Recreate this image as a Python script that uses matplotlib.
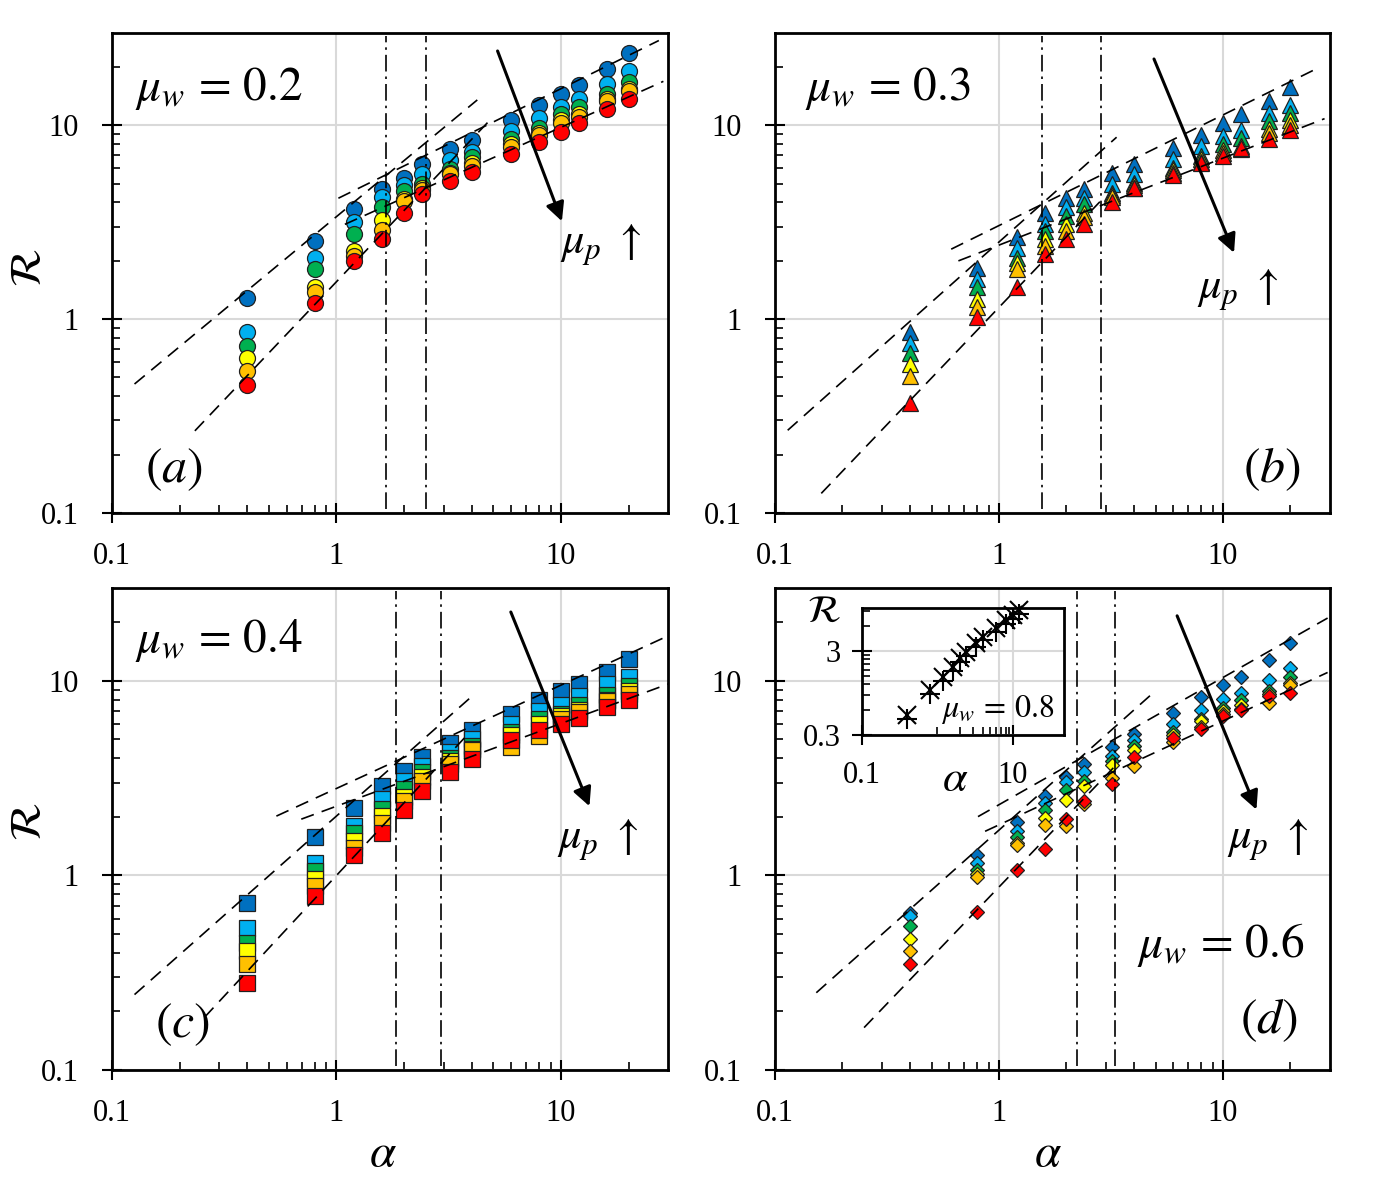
import numpy as np
import matplotlib
matplotlib.use('Agg')
import matplotlib.pyplot as plt
from matplotlib.ticker import FixedLocator, NullFormatter

plt.rcParams['font.family'] = ['Liberation Serif', 'DejaVu Serif']
plt.rcParams['mathtext.fontset'] = 'stix'

# aspect ratio alpha (same for every panel)
alpha = [0.4, 0.8, 1.2, 1.6, 2, 2.4, 3.2, 4, 6, 8, 10, 12, 16, 20]
# colours for increasing mu_p
colors = ['#0070C0', '#00B0F0', '#00B050', '#FFFF00', '#FFC000', '#FF0000']

# R for mu_w = 0.2, one row per mu_p
R_02 = [
    [1.29, 2.54, 3.72, 4.68, 5.33, 6.34, 7.51, 8.36, 10.7, 12.8, 14.5, 16.1, 19.6, 23.5],
    [0.86, 2.08, 3.18, 4.27, 4.92, 5.59, 6.59, 7.31, 9.33, 10.9, 12.4, 13.7, 16.4, 19.0],
    [0.73, 1.82, 2.75, 3.77, 4.59, 5.00, 5.93, 6.86, 8.46, 9.71, 11.4, 12.4, 14.5, 16.7],
    [0.63, 1.46, 2.25, 3.24, 4.16, 4.77, 5.70, 6.42, 7.97, 9.15, 10.6, 11.5, 13.7, 15.4],
    [0.54, 1.38, 2.13, 2.88, 4.07, 4.62, 5.59, 6.17, 7.72, 8.90, 10.3, 11.1, 13.3, 15.0],
    [0.46, 1.21, 2.00, 2.59, 3.55, 4.41, 5.16, 5.77, 7.08, 8.19, 9.26, 10.3, 12.1, 13.7],
]
# R for mu_w = 0.3
R_03 = [
    [0.86, 1.84, 2.66, 3.51, 4.24, 4.68, 5.70, 6.34, 7.66, 8.97, 10.3, 11.5, 13.3, 15.7],
    [0.75, 1.61, 2.33, 3.11, 3.77, 4.24, 4.96, 5.59, 6.67, 7.81, 8.80, 9.51, 11.6, 12.8],
    [0.67, 1.47, 2.08, 2.86, 3.41, 3.92, 4.50, 5.06, 6.04, 6.94, 7.97, 8.62, 10.5, 11.6],
    [0.59, 1.27, 1.94, 2.59, 3.09, 3.55, 4.38, 4.92, 5.86, 6.67, 7.42, 7.81, 9.63, 10.7],
    [0.51, 1.15, 1.81, 2.39, 2.86, 3.35, 4.27, 4.77, 5.70, 6.49, 7.22, 7.51, 9.15, 10.1],
    [0.37, 1.02, 1.46, 2.18, 2.59, 3.11, 4.04, 4.73, 5.54, 6.42, 6.94, 7.60, 8.46, 9.50],
]
# R for mu_w = 0.4
R_04 = [
    [0.72, 1.58, 2.21, 2.89, 3.43, 4.05, 4.79, 5.56, 6.78, 7.94, 8.88, 9.69, 11.1, 13.0],
    [0.54, 1.16, 1.80, 2.47, 3.07, 3.67, 4.30, 5.04, 5.97, 7.00, 7.49, 8.33, 9.69, 10.5],
    [0.45, 1.06, 1.66, 2.19, 2.78, 3.39, 4.02, 4.65, 5.45, 6.39, 6.78, 7.49, 8.43, 9.38],
    [0.41, 0.96, 1.50, 2.01, 2.54, 3.19, 3.86, 4.47, 5.25, 6.00, 6.57, 7.11, 8.01, 8.88],
    [0.35, 0.88, 1.39, 1.86, 2.40, 3.07, 3.74, 4.39, 4.60, 5.20, 6.39, 6.92, 7.88, 8.60],
    [0.28, 0.78, 1.27, 1.66, 2.17, 2.73, 3.39, 3.97, 4.95, 5.60, 6.02, 6.47, 7.34, 7.94],
]
# R for mu_w = 0.6
R_06 = [
    [0.64, 1.28, 1.88, 2.55, 3.19, 3.74, 4.56, 5.35, 6.86, 8.27, 9.57, 10.5, 12.8, 15.6],
    [0.62, 1.16, 1.69, 2.37, 3.01, 3.42, 4.13, 4.94, 6.02, 7.06, 8.04, 8.71, 10.1, 11.6],
    [0.55, 1.07, 1.58, 2.17, 2.76, 3.07, 3.89, 4.65, 5.45, 6.39, 7.26, 7.94, 8.85, 10.5],
    [0.47, 1.02, 1.47, 1.98, 2.45, 2.89, 3.70, 4.39, 5.30, 6.19, 6.97, 7.55, 8.60, 9.80],
    [0.41, 0.98, 1.43, 1.81, 1.79, 2.33, 3.16, 3.67, 4.88, 5.79, 6.78, 7.14, 7.73, 9.50],
    [0.35, 0.65, 1.07, 1.37, 1.94, 2.41, 2.95, 4.05, 5.10, 5.63, 6.60, 7.06, 8.37, 8.71],
]

# power-law guides R = c * alpha^n over [lo, hi]
fits_02 = [(3.38, 0.96, 0.126, 4.24), (1.56, 1.22, 0.234, 4.99),
           (4.16, 0.57, 1.02, 27.3), (2.95, 0.52, 1.09, 28.6)]
fits_03 = [(2.50, 1.03, 0.114, 3.35), (1.15, 1.21, 0.161, 2.90),
           (3.04, 0.571, 0.612, 25.5), (2.41, 0.449, 0.659, 28.4)]
fits_04 = [(2.02, 1.02, 0.126, 4.08), (1.00, 1.24, 0.258, 3.80),
           (2.80, 0.531, 0.54, 30.0), (2.27, 0.425, 0.697, 30.0)]
fits_06 = [(1.71, 1.025, 0.153, 4.83), (0.872, 1.20, 0.25, 3.50),
           (2.31, 0.654, 0.806, 29.3), (1.82, 0.534, 0.867, 29.3)]

# regime boundaries (dash-dot)
bounds_02 = [1.66, 2.51]
bounds_03 = [1.56, 2.84]
bounds_04 = [1.84, 2.91]
bounds_06 = [2.24, 3.29]

# inset, mu_w = 0.8
alpha_08 = [0.4, 0.8, 1.2, 1.6, 2, 2.4, 3.2, 4, 6, 8, 10, 12]
R_08_x = [0.52, 1.03, 1.48, 1.95, 2.45, 2.90, 3.70, 4.43, 5.58, 7.00, 8.00, 9.20]
R_08_p = [0.46, 0.92, 1.32, 1.75, 2.20, 2.60, 3.30, 4.00, 5.00, 6.30, 7.20, 8.30]

fig = plt.figure(figsize=(13.74, 11.83), dpi=100)

boxes = [[0.0815, 0.5664, 0.4047, 0.4058], [0.5640, 0.5664, 0.4039, 0.4058],
         [0.0815, 0.0955, 0.4047, 0.4074], [0.5640, 0.0955, 0.4039, 0.4074]]
panels = [(R_02, 'o', 11.5, fits_02, bounds_02),
          (R_03, '^', 11, fits_03, bounds_03),
          (R_04, 's', 11.3, fits_04, bounds_04),
          (R_06, 'D', 7.4, fits_06, bounds_06)]
axes = []

for box, (R, mk, ms, fits, bounds) in zip(boxes, panels):
    ax = fig.add_axes(box)
    ax.set_xscale('log')
    ax.set_yscale('log')
    ax.set_xlim(0.1, 30)
    ax.set_ylim(0.1, 30)
    ax.set_axisbelow(True)
    ax.grid(True, which='major', color='#d9d9d9', lw=1.5)

    for vals, col in zip(R, colors):
        ax.plot(alpha, vals, ls='none', marker=mk, ms=ms, mfc=col,
                mec='#202020', mew=0.9, zorder=3)
    for c, n, lo, hi in fits:
        xs = np.geomspace(lo, hi, 60)
        ax.plot(xs, c * xs**n, color='k', lw=1.2, ls=(0, (8, 5)), zorder=4)
    for b in bounds:
        ax.plot([b, b], [0.105, 29], color='k', lw=1.2,
                ls=(0, (10, 3, 1.5, 3)), zorder=4)

    ax.xaxis.set_major_locator(FixedLocator([0.1, 1, 10]))
    ax.yaxis.set_major_locator(FixedLocator([0.1, 1, 10]))
    ax.set_xticklabels(['0.1', '1', '10'])
    ax.set_yticklabels(['0.1', '1', '10'])
    minors = [k * d for d in (0.1, 1, 10) for k in range(2, 10) if k * d < 30]
    ax.xaxis.set_minor_locator(FixedLocator(minors))
    ax.yaxis.set_minor_locator(FixedLocator(minors))
    ax.xaxis.set_minor_formatter(NullFormatter())
    ax.yaxis.set_minor_formatter(NullFormatter())
    ax.tick_params(which='major', direction='inout', length=14, width=1.5,
                   labelsize=22)
    ax.tick_params(axis='x', which='major', pad=14)
    ax.tick_params(axis='y', which='major', pad=17)
    ax.tick_params(which='minor', direction='in', length=6, width=1.2)
    for s in ax.spines.values():
        s.set_linewidth(2)
    axes.append(ax)

ax_a, ax_b, ax_c, ax_d = axes

# labels inside panels
ax_a.text(0.041, 0.885, r'$\mu_w\,=\,0.2$', transform=ax_a.transAxes, fontsize=34, va='center')
ax_b.text(0.054, 0.885, r'$\mu_w\,=\,0.3$', transform=ax_b.transAxes, fontsize=34, va='center')
ax_c.text(0.041, 0.892, r'$\mu_w\,=\,0.4$', transform=ax_c.transAxes, fontsize=34, va='center')
ax_d.text(0.652, 0.259, r'$\mu_w\,=\,0.6$', transform=ax_d.transAxes, fontsize=34, va='center')

ax_a.text(0.806, 0.558, r'$\mu_p\ \uparrow$', transform=ax_a.transAxes, fontsize=32, va='center')
ax_b.text(0.760, 0.465, r'$\mu_p\ \uparrow$', transform=ax_b.transAxes, fontsize=32, va='center')
ax_c.text(0.800, 0.477, r'$\mu_p\ \uparrow$', transform=ax_c.transAxes, fontsize=32, va='center')
ax_d.text(0.814, 0.477, r'$\mu_p\ \uparrow$', transform=ax_d.transAxes, fontsize=32, va='center')

ax_a.text(0.059, 0.09, r'$(a)$', transform=ax_a.transAxes, fontsize=36, va='center')
ax_b.text(0.843, 0.09, r'$(b)$', transform=ax_b.transAxes, fontsize=36, va='center')
ax_c.text(0.077, 0.093, r'$(c)$', transform=ax_c.transAxes, fontsize=36, va='center')
ax_d.text(0.838, 0.104, r'$(d)$', transform=ax_d.transAxes, fontsize=36, va='center')

arrow = dict(arrowstyle='-|>', lw=2.2, color='k', mutation_scale=28, shrinkA=0, shrinkB=0)
ax_a.annotate('', xy=(10.1, 3.2), xytext=(5.22, 24.2), arrowprops=arrow)
ax_b.annotate('', xy=(11.2, 2.2), xytext=(4.92, 22.0), arrowprops=arrow)
ax_c.annotate('', xy=(13.4, 2.27), xytext=(5.98, 22.6), arrowprops=arrow)
ax_d.annotate('', xy=(14.1, 2.18), xytext=(6.24, 21.6), arrowprops=arrow)

fig.text(30 / 1374, 1 - 268 / 1183, r'$\mathcal{R}$', rotation=90, ha='center', va='center', fontsize=32)
fig.text(30 / 1374, 1 - 822 / 1183, r'$\mathcal{R}$', rotation=90, ha='center', va='center', fontsize=32)
fig.text(383 / 1374, 1 - 1155 / 1183, r'$\alpha$', ha='center', va='center', fontsize=34)
fig.text(1048 / 1374, 1 - 1155 / 1183, r'$\alpha$', ha='center', va='center', fontsize=34)

# inset with mu_w = 0.8
ins = fig.add_axes([0.6274, 0.3787, 0.1467, 0.1076])
ins.set_facecolor('none')
ins.set_xscale('log')
ins.set_yscale('log')
ins.set_xlim(0.1, 47)
ins.set_ylim(0.3, 9.8)
ins.set_axisbelow(True)
ins.grid(True, which='major', color='#d9d9d9', lw=1.5)
ins.plot(alpha_08, R_08_p, ls='none', marker='+', ms=15, mew=1.5, color='k', clip_on=False)
ins.plot(alpha_08, R_08_x, ls='none', marker='x', ms=13, mew=1.5, color='k', clip_on=False)
ins.xaxis.set_major_locator(FixedLocator([0.1, 10]))
ins.xaxis.set_minor_locator(FixedLocator([1, 2, 3, 4, 5, 6, 7, 8, 9]))
ins.yaxis.set_major_locator(FixedLocator([0.3, 3]))
ins.yaxis.set_minor_locator(FixedLocator([0.6, 0.9, 1.2, 1.5, 1.8, 2.1, 2.4, 2.7, 6, 9]))
ins.set_xticklabels(['0.1', '10'])
ins.set_yticklabels(['0.3', '3'])
ins.xaxis.set_minor_formatter(NullFormatter())
ins.yaxis.set_minor_formatter(NullFormatter())
ins.tick_params(which='major', direction='inout', length=14, width=1.5, labelsize=22)
ins.tick_params(axis='x', which='major', pad=12)
ins.tick_params(axis='y', which='major', pad=8)
ins.tick_params(which='minor', direction='in', length=6, width=1.2)
for s in ins.spines.values():
    s.set_linewidth(2)
ins.text(-0.19, 0.96, r'$\mathcal{R}$', transform=ins.transAxes, fontsize=28, ha='center', va='center')
ins.text(0.46, -0.35, r'$\alpha$', transform=ins.transAxes, fontsize=32, ha='center', va='center')
ins.text(0.39, 0.20, r'$\mu_w\,=\,0.8$', transform=ins.transAxes, fontsize=23, va='center')

fig.savefig('out.png', dpi=100)
